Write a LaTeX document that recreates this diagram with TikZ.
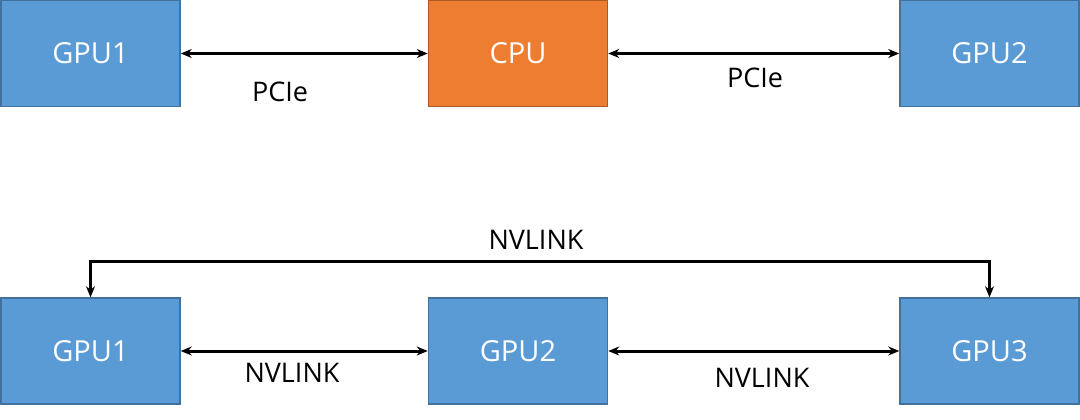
\documentclass[tikz,border=0pt]{standalone}
\usepackage{fontspec}
\setmainfont{Open Sans}
\usetikzlibrary{arrows.meta}
\definecolor{gpu}{HTML}{5B9BD5}
\definecolor{gpub}{HTML}{41719C}
\definecolor{cpu}{HTML}{ED7D31}
\definecolor{cpub}{HTML}{AE5A21}
\begin{document}
\begin{tikzpicture}[x=1pt,y=-1pt,
 box/.style={draw=gpub,fill=gpu,line width=1.5pt,minimum width=179pt,minimum height=106pt,inner sep=0pt,text=white,font=\fontsize{29}{34}\selectfont},
 lbl/.style={font=\fontsize{27}{32}\selectfont},
 conn/.style={line width=3pt,{Stealth[length=11pt,width=9pt]}-{Stealth[length=11pt,width=9pt]}}]
\useasboundingbox (0,0) rectangle (1080,420);
\node[box] (g1) at (90.5,53.5) {GPU1};
\node[box,draw=cpub,fill=cpu] (c) at (518,53.5) {CPU};
\node[box] (g2) at (989.5,53.5) {GPU2};
\node[box] (b1) at (90.5,351) {GPU1};
\node[box] (b2) at (518,351) {GPU2};
\node[box] (b3) at (989.5,351) {GPU3};
\draw[conn] (g1) -- (c);
\draw[conn] (c) -- (g2);
\draw[conn] (b1) -- (b2);
\draw[conn] (b2) -- (b3);
\draw[conn] (b1.north) -- ++(0,-36) -| (b3.north);
\node[lbl] (p1) at (280,92) {PCIe};
\node[lbl] (p2) at (755,78) {PCIe};
\node[lbl] (n0) at (536,240) {NVLINK};
\node[lbl] (n1) at (292,373) {NVLINK};
\node[lbl] (n2) at (762,378) {NVLINK};
\end{tikzpicture}
\end{document}
